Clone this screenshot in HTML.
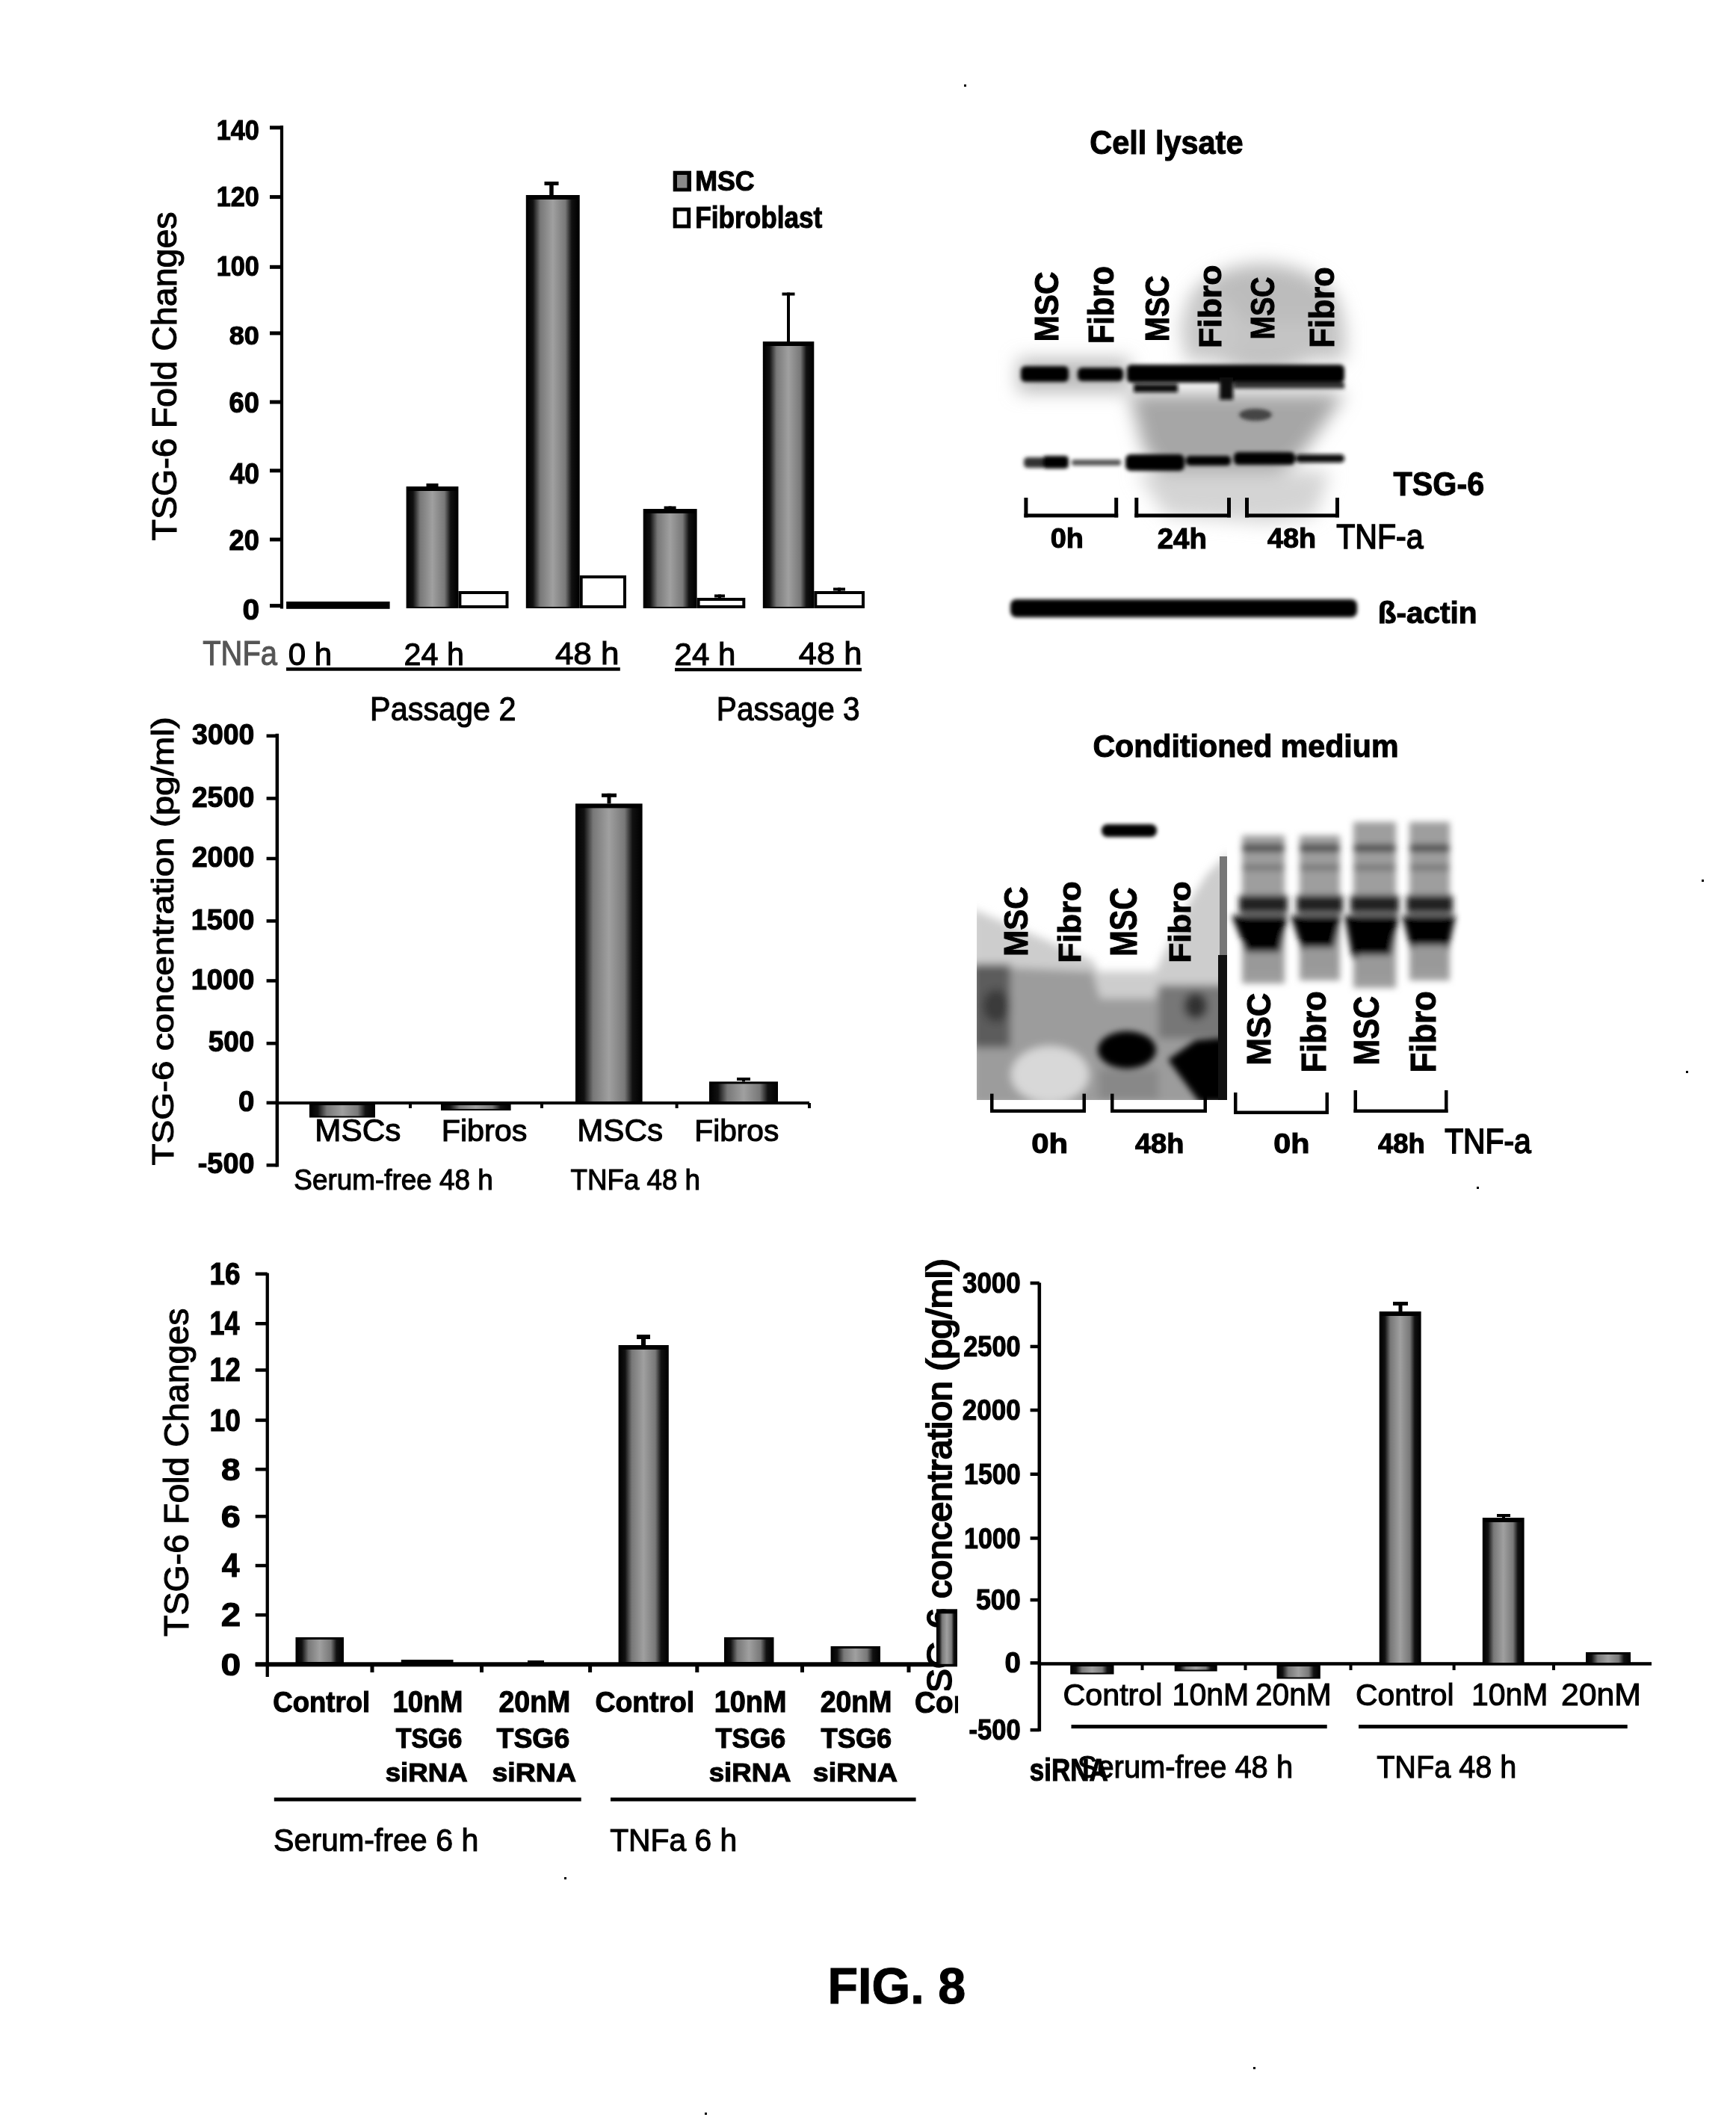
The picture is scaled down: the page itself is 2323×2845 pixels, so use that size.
<!DOCTYPE html>
<html><head><meta charset="utf-8"><title>FIG. 8</title>
<style>html,body{margin:0;padding:0;background:#fff;}
svg{display:block;filter:grayscale(1);} text{font-family:"Liberation Sans",Arial,sans-serif;stroke:#000;stroke-width:1.1px;}</style></head>
<body><svg width="2323" height="2845" viewBox="0 0 2323 2845">
<defs>
<linearGradient id="gb" x1="0" x2="1" y1="0" y2="0">
 <stop offset="0" stop-color="#000"/><stop offset="0.12" stop-color="#111"/>
 <stop offset="0.26" stop-color="#787878"/><stop offset="0.5" stop-color="#a0a0a0"/>
 <stop offset="0.74" stop-color="#787878"/><stop offset="0.86" stop-color="#111"/>
 <stop offset="1" stop-color="#000"/></linearGradient>
<filter id="bl3" x="-20%" y="-100%" width="140%" height="300%"><feGaussianBlur stdDeviation="2.5"/></filter>
<filter id="bl4" x="-30%" y="-30%" width="160%" height="160%"><feGaussianBlur stdDeviation="4"/></filter>
<filter id="bl6" x="-30%" y="-30%" width="160%" height="160%"><feGaussianBlur stdDeviation="6"/></filter>
<filter id="bl8" x="-30%" y="-30%" width="160%" height="160%"><feGaussianBlur stdDeviation="8"/></filter>
<filter id="bl12" x="-30%" y="-30%" width="160%" height="160%"><feGaussianBlur stdDeviation="12"/></filter>
</defs>
<rect width="2323" height="2845" fill="#fff"/>
<rect x="374.9" y="168.0" width="4.2" height="646.5" fill="#000" />
<rect x="361.0" y="808.1" width="16.0" height="5.0" fill="#000" />
<text x="324.4" y="828.6" font-size="38.7" font-weight="bold" textLength="22.7" lengthAdjust="spacingAndGlyphs" fill="#000" >0</text>
<rect x="361.0" y="719.5" width="16.0" height="5.0" fill="#000" />
<text x="306.6" y="735.9" font-size="37.9" font-weight="bold" textLength="40.3" lengthAdjust="spacingAndGlyphs" fill="#000" >20</text>
<rect x="361.0" y="627.3" width="16.0" height="5.0" fill="#000" />
<text x="307.4" y="647.4" font-size="38.3" font-weight="bold" textLength="39.5" lengthAdjust="spacingAndGlyphs" fill="#000" >40</text>
<rect x="361.0" y="535.5" width="16.0" height="5.0" fill="#000" />
<text x="306.6" y="551.6" font-size="38.0" font-weight="bold" textLength="40.3" lengthAdjust="spacingAndGlyphs" fill="#000" >60</text>
<rect x="361.0" y="443.4" width="16.0" height="5.0" fill="#000" />
<text x="306.8" y="461.0" font-size="35.8" font-weight="bold" textLength="40.1" lengthAdjust="spacingAndGlyphs" fill="#000" >80</text>
<rect x="361.0" y="354.8" width="16.0" height="5.0" fill="#000" />
<text x="289.7" y="368.9" font-size="37.3" font-weight="bold" textLength="57.1" lengthAdjust="spacingAndGlyphs" fill="#000" >100</text>
<rect x="361.0" y="261.1" width="16.0" height="5.0" fill="#000" />
<text x="289.7" y="275.6" font-size="37.5" font-weight="bold" textLength="57.1" lengthAdjust="spacingAndGlyphs" fill="#000" >120</text>
<rect x="361.0" y="168.3" width="16.0" height="5.0" fill="#000" />
<text x="289.7" y="186.8" font-size="37.3" font-weight="bold" textLength="57.1" lengthAdjust="spacingAndGlyphs" fill="#000" >140</text>
<rect x="383.1" y="805.0" width="138.5" height="9.8" fill="#000" />
<rect x="543.6" y="651.0" width="69.8" height="163.0" fill="#000" />
<rect x="544.6" y="657.0" width="67.8" height="155.0" fill="url(#gb)" />
<rect x="613.4" y="791.0" width="67.1" height="23.0" fill="#000" />
<rect x="617.4" y="795.0" width="59.1" height="15.0" fill="#fff" />
<rect x="703.8" y="261.0" width="71.9" height="553.0" fill="#000" />
<rect x="704.8" y="267.0" width="69.9" height="545.0" fill="url(#gb)" />
<rect x="775.7" y="770.0" width="62.3" height="44.0" fill="#000" />
<rect x="779.7" y="774.0" width="54.3" height="36.0" fill="#fff" />
<rect x="860.7" y="681.0" width="71.9" height="133.0" fill="#000" />
<rect x="861.7" y="687.0" width="69.9" height="125.0" fill="url(#gb)" />
<rect x="932.6" y="800.0" width="64.7" height="14.0" fill="#000" />
<rect x="936.6" y="804.0" width="56.7" height="6.0" fill="#fff" />
<rect x="1020.8" y="457.0" width="68.5" height="357.0" fill="#000" />
<rect x="1021.8" y="463.0" width="66.5" height="349.0" fill="url(#gb)" />
<rect x="1089.3" y="791.0" width="67.7" height="23.0" fill="#000" />
<rect x="1093.3" y="795.0" width="59.7" height="15.0" fill="#fff" />
<rect x="576.5" y="647.0" width="4.0" height="4.0" fill="#000" />
<rect x="570.5" y="647.0" width="16.0" height="4.0" fill="#000" />
<rect x="735.2" y="243.0" width="5.5" height="18.0" fill="#000" />
<rect x="728.5" y="243.0" width="19.0" height="5.0" fill="#000" />
<rect x="894.6" y="677.5" width="4.0" height="3.5" fill="#000" />
<rect x="888.6" y="677.5" width="16.0" height="4.0" fill="#000" />
<rect x="961.0" y="795.5" width="4.0" height="4.5" fill="#000" />
<rect x="956.0" y="795.5" width="14.0" height="4.0" fill="#000" />
<rect x="1053.0" y="391.5" width="4.0" height="65.5" fill="#000" />
<rect x="1046.5" y="391.5" width="17.0" height="4.0" fill="#000" />
<rect x="1121.0" y="786.5" width="4.0" height="4.5" fill="#000" />
<rect x="1115.0" y="786.5" width="16.0" height="4.0" fill="#000" />
<rect x="900.7" y="228.7" width="24.3" height="27.6" fill="#000" />
<rect x="906.0" y="234.0" width="13.4" height="17.5" fill="#8a8a8a" />
<text x="930.2" y="255.2" font-size="36.9" font-weight="bold" textLength="79.4" lengthAdjust="spacingAndGlyphs" fill="#000" >MSC</text>
<rect x="900.7" y="277.7" width="23.5" height="27.7" fill="#000" />
<rect x="905.7" y="282.7" width="13.5" height="17.7" fill="#fff" />
<text x="930.2" y="305.0" font-size="40.0" font-weight="bold" textLength="170.1" lengthAdjust="spacingAndGlyphs" fill="#000" >Fibroblast</text>
<text transform="rotate(-90)" x="-723.4" y="235.5" font-size="46.1" font-weight="normal" textLength="440.0" lengthAdjust="spacingAndGlyphs" fill="#000" >TSG-6 Fold Changes</text>
<text x="271.2" y="890.2" font-size="45.3" font-weight="normal" textLength="99.8" lengthAdjust="spacingAndGlyphs" fill="#555" style="stroke:#555">TNFa</text>
<text x="385.7" y="889.6" font-size="42.2" font-weight="normal" textLength="58.5" lengthAdjust="spacingAndGlyphs" fill="#000" >0 h</text>
<text x="540.6" y="889.5" font-size="42.9" font-weight="normal" textLength="80.3" lengthAdjust="spacingAndGlyphs" fill="#000" >24 h</text>
<text x="742.9" y="889.1" font-size="42.3" font-weight="normal" textLength="85.6" lengthAdjust="spacingAndGlyphs" fill="#000" >48 h</text>
<text x="902.6" y="889.5" font-size="42.9" font-weight="normal" textLength="81.8" lengthAdjust="spacingAndGlyphs" fill="#000" >24 h</text>
<text x="1068.8" y="889.1" font-size="42.3" font-weight="normal" textLength="84.6" lengthAdjust="spacingAndGlyphs" fill="#000" >48 h</text>
<rect x="383.0" y="893.2" width="446.8" height="4.5" fill="#000" />
<rect x="903.0" y="893.8" width="250.0" height="4.5" fill="#000" />
<text x="495.1" y="964.0" font-size="43.8" font-weight="normal" textLength="195.5" lengthAdjust="spacingAndGlyphs" fill="#000" >Passage 2</text>
<text x="958.8" y="964.0" font-size="43.8" font-weight="normal" textLength="191.9" lengthAdjust="spacingAndGlyphs" fill="#000" >Passage 3</text>
<rect x="368.6" y="981.8" width="4.5" height="579.7" fill="#000" />
<rect x="356.6" y="982.5" width="14.2" height="4.5" fill="#000" />
<text x="257.1" y="995.8" font-size="38.0" font-weight="bold" textLength="83.2" lengthAdjust="spacingAndGlyphs" fill="#000" >3000</text>
<rect x="356.6" y="1066.2" width="14.2" height="4.5" fill="#000" />
<text x="256.7" y="1079.5" font-size="38.0" font-weight="bold" textLength="83.6" lengthAdjust="spacingAndGlyphs" fill="#000" >2500</text>
<rect x="356.6" y="1146.7" width="14.2" height="4.5" fill="#000" />
<text x="256.7" y="1160.0" font-size="38.0" font-weight="bold" textLength="83.6" lengthAdjust="spacingAndGlyphs" fill="#000" >2000</text>
<rect x="356.6" y="1230.2" width="14.2" height="4.5" fill="#000" />
<text x="255.7" y="1243.5" font-size="38.0" font-weight="bold" textLength="84.6" lengthAdjust="spacingAndGlyphs" fill="#000" >1500</text>
<rect x="356.6" y="1310.2" width="14.2" height="4.5" fill="#000" />
<text x="255.7" y="1323.5" font-size="38.0" font-weight="bold" textLength="84.6" lengthAdjust="spacingAndGlyphs" fill="#000" >1000</text>
<rect x="356.6" y="1394.0" width="14.2" height="4.5" fill="#000" />
<text x="278.8" y="1407.3" font-size="38.0" font-weight="bold" textLength="61.6" lengthAdjust="spacingAndGlyphs" fill="#000" >500</text>
<rect x="356.6" y="1473.5" width="14.2" height="4.5" fill="#000" />
<text x="319.0" y="1486.8" font-size="38.0" font-weight="bold" textLength="21.4" lengthAdjust="spacingAndGlyphs" fill="#000" >0</text>
<rect x="356.6" y="1557.0" width="14.2" height="4.5" fill="#000" />
<text x="264.8" y="1570.3" font-size="38.0" font-weight="bold" textLength="75.6" lengthAdjust="spacingAndGlyphs" fill="#000" >-500</text>
<rect x="370.8" y="1474.0" width="712.2" height="4.0" fill="#000" />
<rect x="547.0" y="1476.0" width="4.0" height="7.0" fill="#000" />
<rect x="723.0" y="1476.0" width="4.0" height="7.0" fill="#000" />
<rect x="903.6" y="1476.0" width="4.0" height="7.0" fill="#000" />
<rect x="1081.0" y="1476.0" width="4.0" height="7.0" fill="#000" />
<rect x="414.0" y="1476.0" width="88.0" height="19.5" fill="#000" />
<rect x="415.0" y="1479.0" width="86.0" height="14.5" fill="url(#gb)" />
<rect x="590.0" y="1476.0" width="93.6" height="10.0" fill="#000" />
<rect x="591.0" y="1479.0" width="91.6" height="5.0" fill="url(#gb)" />
<rect x="770.0" y="1075.4" width="89.6" height="400.6" fill="#000" />
<rect x="771.0" y="1081.4" width="87.6" height="392.6" fill="url(#gb)" />
<rect x="949.0" y="1447.4" width="92.0" height="28.6" fill="#000" />
<rect x="950.0" y="1450.4" width="90.0" height="23.6" fill="url(#gb)" />
<rect x="812.5" y="1061.8" width="5.0" height="13.6" fill="#000" />
<rect x="805.0" y="1061.8" width="20.0" height="5.0" fill="#000" />
<rect x="993.0" y="1442.0" width="4.0" height="5.4" fill="#000" />
<rect x="986.0" y="1442.0" width="18.0" height="4.0" fill="#000" />
<text transform="rotate(-90)" x="-1559.6" y="232.3" font-size="41.5" font-weight="normal" textLength="600.5" lengthAdjust="spacingAndGlyphs" fill="#000" >TSG-6 concentration (pg/ml)</text>
<text x="421.3" y="1527.1" font-size="42.0" font-weight="normal" textLength="115.0" lengthAdjust="spacingAndGlyphs" fill="#000" >MSCs</text>
<text x="590.7" y="1527.1" font-size="40.5" font-weight="normal" textLength="114.7" lengthAdjust="spacingAndGlyphs" fill="#000" >Fibros</text>
<text x="772.2" y="1527.1" font-size="42.0" font-weight="normal" textLength="114.8" lengthAdjust="spacingAndGlyphs" fill="#000" >MSCs</text>
<text x="929.3" y="1527.1" font-size="40.5" font-weight="normal" textLength="113.0" lengthAdjust="spacingAndGlyphs" fill="#000" >Fibros</text>
<text x="393.3" y="1592.4" font-size="38.5" font-weight="normal" textLength="266.4" lengthAdjust="spacingAndGlyphs" fill="#000" >Serum-free 48 h</text>
<text x="763.5" y="1592.4" font-size="38.5" font-weight="normal" textLength="173.5" lengthAdjust="spacingAndGlyphs" fill="#000" >TNFa 48 h</text>
<text x="1458.3" y="205.6" font-size="44.7" font-weight="bold" textLength="205.2" lengthAdjust="spacingAndGlyphs" fill="#000" >Cell lysate</text>
<g filter="url(#bl12)"><ellipse cx="1690" cy="425" rx="105" ry="72" fill="#bcbcbc"/><rect x="1585" y="430" width="215" height="52" fill="#c4c4c4"/><ellipse cx="1620" cy="440" rx="40" ry="45" fill="#c8c8c8"/><polygon points="1511,526 1800,526 1770,570 1740,610 1700,640 1620,650 1560,640 1530,600" fill="#a6a6a6"/><polygon points="1520,630 1780,630 1760,690 1700,700 1560,690" fill="#d4d4d4"/><rect x="1362" y="480" width="150" height="45" fill="#bbb"/></g>
<g filter="url(#bl3)"><rect x="1366" y="490" width="64" height="21" rx="6" fill="#000"/><rect x="1442" y="492" width="61" height="18" rx="6" fill="#000"/><rect x="1508" y="488" width="291" height="24" rx="6" fill="#000"/><rect x="1517" y="514" width="59" height="11" fill="#111"/><rect x="1632" y="505" width="18" height="30" fill="#111"/><rect x="1651" y="512" width="148" height="8" fill="#333"/><ellipse cx="1680" cy="555" rx="22" ry="8" fill="#444"/><rect x="1370" y="612" width="60" height="14" rx="5" fill="#333"/><rect x="1395" y="610" width="35" height="17" rx="5" fill="#000"/><rect x="1434" y="615" width="66" height="8" rx="3" fill="#555"/><rect x="1506" y="608" width="79" height="22" rx="7" fill="#000"/><rect x="1587" y="610" width="60" height="13" rx="5" fill="#000"/><rect x="1651" y="605" width="82" height="17" rx="6" fill="#000"/><rect x="1734" y="608" width="65" height="11" rx="5" fill="#111"/><rect x="1352" y="802" width="464" height="24" rx="8" fill="#000"/></g>
<text transform="rotate(-90)" x="-457.3" y="1415.5" font-size="45.1" font-weight="bold" textLength="93.8" lengthAdjust="spacingAndGlyphs" fill="#000" >MSC</text>
<text transform="rotate(-90)" x="-460.1" y="1490.2" font-size="47.2" font-weight="bold" textLength="103.9" lengthAdjust="spacingAndGlyphs" fill="#000" >Fibro</text>
<text transform="rotate(-90)" x="-457.2" y="1563.5" font-size="45.1" font-weight="bold" textLength="88.3" lengthAdjust="spacingAndGlyphs" fill="#000" >MSC</text>
<text transform="rotate(-90)" x="-465.9" y="1634.0" font-size="43.3" font-weight="bold" textLength="111.3" lengthAdjust="spacingAndGlyphs" fill="#000" >Fibro</text>
<text transform="rotate(-90)" x="-454.2" y="1704.5" font-size="45.1" font-weight="bold" textLength="83.7" lengthAdjust="spacingAndGlyphs" fill="#000" >MSC</text>
<text transform="rotate(-90)" x="-465.8" y="1784.5" font-size="46.8" font-weight="bold" textLength="108.5" lengthAdjust="spacingAndGlyphs" fill="#000" >Fibro</text>
<rect x="1370.4" y="666.0" width="5.0" height="26.4" fill="#000" />
<rect x="1491.2" y="666.0" width="5.0" height="26.4" fill="#000" />
<rect x="1370.4" y="687.4" width="125.8" height="5.0" fill="#000" />
<rect x="1518.3" y="666.0" width="5.0" height="26.4" fill="#000" />
<rect x="1642.0" y="666.0" width="5.0" height="26.4" fill="#000" />
<rect x="1518.3" y="687.4" width="128.7" height="5.0" fill="#000" />
<rect x="1666.0" y="666.0" width="5.0" height="26.4" fill="#000" />
<rect x="1787.0" y="666.0" width="5.0" height="26.4" fill="#000" />
<rect x="1666.0" y="687.4" width="126.0" height="5.0" fill="#000" />
<text x="1405.8" y="733.4" font-size="37.8" font-weight="bold" textLength="44.2" lengthAdjust="spacingAndGlyphs" fill="#000" >0h</text>
<text x="1548.7" y="733.8" font-size="38.3" font-weight="bold" textLength="66.2" lengthAdjust="spacingAndGlyphs" fill="#000" >24h</text>
<text x="1695.9" y="733.4" font-size="37.8" font-weight="bold" textLength="65.2" lengthAdjust="spacingAndGlyphs" fill="#000" >48h</text>
<text x="1788.2" y="733.6" font-size="45.4" font-weight="normal" textLength="116.3" lengthAdjust="spacingAndGlyphs" fill="#000" style="stroke-width:1.6px">TNF-a</text>
<text x="1864.6" y="662.5" font-size="44.8" font-weight="bold" textLength="121.5" lengthAdjust="spacingAndGlyphs" fill="#000" >TSG-6</text>
<text x="1843.7" y="833.6" font-size="40.8" font-weight="bold" textLength="132.9" lengthAdjust="spacingAndGlyphs" fill="#000" >ß-actin</text>
<text x="1462.4" y="1012.6" font-size="42.9" font-weight="bold" textLength="409.1" lengthAdjust="spacingAndGlyphs" fill="#000" >Conditioned medium</text>
<clipPath id="cpL"><rect x="1307" y="1100" width="335" height="372"/></clipPath>
<g clip-path="url(#cpL)"><g filter="url(#bl6)"><polygon points="1300,1216 1400,1258 1462,1285 1470,1300 1546,1300 1560,1270 1590,1210 1615,1170 1645,1140 1645,1480 1300,1480" fill="#cdcdcd"/><polygon points="1300,1292 1462,1300 1472,1336 1546,1336 1550,1320 1645,1318 1645,1480 1300,1480" fill="#9c9c9c"/><rect x="1300" y="1290" width="52" height="112" fill="#5c5c5c"/><ellipse cx="1333" cy="1346" rx="18" ry="22" fill="#3a3a3a"/><ellipse cx="1405" cy="1438" rx="52" ry="38" fill="#d8d8d8"/><rect x="1550" y="1318" width="95" height="72" fill="#777"/><ellipse cx="1600" cy="1346" rx="16" ry="18" fill="#333"/><rect x="1470" y="1430" width="80" height="42" fill="#888"/></g><g filter="url(#bl4)"><ellipse cx="1508" cy="1405" rx="39" ry="25" fill="#000"/><polygon points="1563,1418 1600,1392 1645,1388 1645,1475 1605,1475" fill="#000"/></g><rect x="1630" y="1278" width="12" height="194" fill="#111"/><rect x="1632" y="1146" width="10" height="132" fill="#777"/></g>
<g filter="url(#bl3)"><rect x="1474" y="1103" width="74" height="17" rx="8" fill="#000"/></g>
<g filter="url(#bl4)"><rect x="1662" y="1118" width="57" height="198" fill="#9e9e9e"/><rect x="1662" y="1130" width="57" height="10" fill="#4a4a4a"/><rect x="1662" y="1157" width="57" height="8" fill="#777"/><rect x="1658" y="1198" width="65" height="24" fill="#222"/><polygon points="1648,1225 1723,1225 1711,1279 1670,1279" fill="#000"/><rect x="1667" y="1274" width="47" height="29" fill="#999"/></g>
<g filter="url(#bl4)"><rect x="1739" y="1118" width="54" height="194" fill="#9e9e9e"/><rect x="1739" y="1130" width="54" height="10" fill="#4a4a4a"/><rect x="1739" y="1157" width="54" height="8" fill="#777"/><rect x="1735" y="1198" width="62" height="24" fill="#222"/><polygon points="1727,1225 1795,1225 1783,1273 1743,1273" fill="#000"/><rect x="1744" y="1268" width="44" height="31" fill="#999"/></g>
<g filter="url(#bl4)"><rect x="1811" y="1100" width="57" height="222" fill="#9e9e9e"/><rect x="1811" y="1130" width="57" height="10" fill="#4a4a4a"/><rect x="1811" y="1157" width="57" height="8" fill="#777"/><rect x="1807" y="1198" width="65" height="24" fill="#222"/><polygon points="1799,1225 1872,1225 1860,1283 1810,1283" fill="#000"/><rect x="1816" y="1278" width="47" height="31" fill="#999"/></g>
<g filter="url(#bl4)"><rect x="1886" y="1100" width="54" height="212" fill="#9e9e9e"/><rect x="1886" y="1130" width="54" height="10" fill="#4a4a4a"/><rect x="1886" y="1157" width="54" height="8" fill="#777"/><rect x="1882" y="1198" width="62" height="24" fill="#222"/><polygon points="1876,1225 1948,1225 1938,1270 1888,1270" fill="#000"/><rect x="1891" y="1265" width="44" height="34" fill="#999"/></g>
<text transform="rotate(-90)" x="-1279.7" y="1374.5" font-size="45.1" font-weight="bold" textLength="93.3" lengthAdjust="spacingAndGlyphs" fill="#000" >MSC</text>
<text transform="rotate(-90)" x="-1288.5" y="1446.2" font-size="43.4" font-weight="bold" textLength="109.3" lengthAdjust="spacingAndGlyphs" fill="#000" >Fibro</text>
<text transform="rotate(-90)" x="-1279.7" y="1520.5" font-size="49.3" font-weight="bold" textLength="92.1" lengthAdjust="spacingAndGlyphs" fill="#000" >MSC</text>
<text transform="rotate(-90)" x="-1288.5" y="1593.3" font-size="40.4" font-weight="bold" textLength="109.3" lengthAdjust="spacingAndGlyphs" fill="#000" >Fibro</text>
<text transform="rotate(-90)" x="-1425.5" y="1700.2" font-size="44.1" font-weight="bold" textLength="96.7" lengthAdjust="spacingAndGlyphs" fill="#000" >MSC</text>
<text transform="rotate(-90)" x="-1435.6" y="1773.5" font-size="46.3" font-weight="bold" textLength="109.4" lengthAdjust="spacingAndGlyphs" fill="#000" >Fibro</text>
<text transform="rotate(-90)" x="-1425.4" y="1845.2" font-size="48.2" font-weight="bold" textLength="92.5" lengthAdjust="spacingAndGlyphs" fill="#000" >MSC</text>
<text transform="rotate(-90)" x="-1435.6" y="1920.5" font-size="47.6" font-weight="bold" textLength="109.4" lengthAdjust="spacingAndGlyphs" fill="#000" >Fibro</text>
<rect x="1325.0" y="1463.6" width="4.5" height="25.4" fill="#000" />
<rect x="1448.5" y="1463.6" width="4.5" height="25.4" fill="#000" />
<rect x="1325.0" y="1484.5" width="128.0" height="4.5" fill="#000" />
<rect x="1486.0" y="1463.6" width="4.5" height="25.4" fill="#000" />
<rect x="1610.5" y="1463.6" width="4.5" height="25.4" fill="#000" />
<rect x="1486.0" y="1484.5" width="129.0" height="4.5" fill="#000" />
<rect x="1651.0" y="1462.0" width="4.5" height="29.0" fill="#000" />
<rect x="1773.5" y="1462.0" width="4.5" height="29.0" fill="#000" />
<rect x="1651.0" y="1486.5" width="127.0" height="4.5" fill="#000" />
<rect x="1811.5" y="1459.0" width="4.5" height="30.0" fill="#000" />
<rect x="1933.0" y="1459.0" width="4.5" height="30.0" fill="#000" />
<rect x="1811.5" y="1484.5" width="126.0" height="4.5" fill="#000" />
<text x="1380.3" y="1543.3" font-size="37.7" font-weight="bold" textLength="48.8" lengthAdjust="spacingAndGlyphs" fill="#000" >0h</text>
<text x="1519.0" y="1543.3" font-size="37.7" font-weight="bold" textLength="65.4" lengthAdjust="spacingAndGlyphs" fill="#000" >48h</text>
<text x="1704.3" y="1543.3" font-size="37.7" font-weight="bold" textLength="48.2" lengthAdjust="spacingAndGlyphs" fill="#000" >0h</text>
<text x="1844.0" y="1543.3" font-size="37.7" font-weight="bold" textLength="62.7" lengthAdjust="spacingAndGlyphs" fill="#000" >48h</text>
<text x="1933.2" y="1543.2" font-size="45.3" font-weight="normal" textLength="115.5" lengthAdjust="spacingAndGlyphs" fill="#000" style="stroke-width:1.8px">TNF-a</text>
<rect x="355.6" y="1703.6" width="4.3" height="540.4" fill="#000" />
<rect x="341.7" y="2224.8" width="16.0" height="4.5" fill="#000" />
<text x="295.5" y="2241.6" font-size="43.0" font-weight="bold" textLength="26.7" lengthAdjust="spacingAndGlyphs" fill="#000" >0</text>
<rect x="341.7" y="2158.9" width="16.0" height="4.5" fill="#000" />
<text x="295.7" y="2176.2" font-size="43.6" font-weight="bold" textLength="26.4" lengthAdjust="spacingAndGlyphs" fill="#000" >2</text>
<rect x="341.7" y="2092.8" width="16.0" height="4.5" fill="#000" />
<text x="296.8" y="2110.0" font-size="44.2" font-weight="bold" textLength="23.7" lengthAdjust="spacingAndGlyphs" fill="#000" >4</text>
<rect x="341.7" y="2027.0" width="16.0" height="4.5" fill="#000" />
<text x="295.8" y="2043.9" font-size="43.0" font-weight="bold" textLength="26.1" lengthAdjust="spacingAndGlyphs" fill="#000" >6</text>
<rect x="341.7" y="1964.0" width="16.0" height="4.5" fill="#000" />
<text x="296.0" y="1980.9" font-size="43.0" font-weight="bold" textLength="25.6" lengthAdjust="spacingAndGlyphs" fill="#000" >8</text>
<rect x="341.7" y="1898.3" width="16.0" height="4.5" fill="#000" />
<text x="280.5" y="1915.2" font-size="43.0" font-weight="bold" textLength="41.3" lengthAdjust="spacingAndGlyphs" fill="#000" >10</text>
<rect x="341.7" y="1831.2" width="16.0" height="4.5" fill="#000" />
<text x="280.5" y="1848.4" font-size="43.6" font-weight="bold" textLength="41.3" lengthAdjust="spacingAndGlyphs" fill="#000" >12</text>
<rect x="341.7" y="1769.0" width="16.0" height="4.5" fill="#000" />
<text x="280.5" y="1786.2" font-size="44.2" font-weight="bold" textLength="39.9" lengthAdjust="spacingAndGlyphs" fill="#000" >14</text>
<rect x="341.7" y="1702.5" width="16.0" height="4.5" fill="#000" />
<text x="280.5" y="1719.3" font-size="43.0" font-weight="bold" textLength="41.1" lengthAdjust="spacingAndGlyphs" fill="#000" >16</text>
<rect x="341.7" y="2224.3" width="939.3" height="6.0" fill="#000" />
<rect x="495.5" y="2226.0" width="5.0" height="12.0" fill="#000" />
<rect x="642.0" y="2226.0" width="5.0" height="12.0" fill="#000" />
<rect x="787.1" y="2226.0" width="5.0" height="12.0" fill="#000" />
<rect x="930.3" y="2226.0" width="5.0" height="12.0" fill="#000" />
<rect x="1071.0" y="2226.0" width="5.0" height="12.0" fill="#000" />
<rect x="1213.5" y="2226.0" width="5.0" height="12.0" fill="#000" />
<rect x="395.5" y="2191.0" width="64.5" height="35.0" fill="#000" />
<rect x="396.5" y="2194.0" width="62.5" height="30.0" fill="url(#gb)" />
<rect x="536.8" y="2221.0" width="69.7" height="5.0" fill="#000" />
<rect x="706.0" y="2222.0" width="22.0" height="4.0" fill="#000" />
<rect x="827.6" y="1800.0" width="67.2" height="426.0" fill="#000" />
<rect x="828.6" y="1806.0" width="65.2" height="418.0" fill="url(#gb)" />
<rect x="969.0" y="2191.0" width="66.5" height="35.0" fill="#000" />
<rect x="970.0" y="2194.0" width="64.5" height="30.0" fill="url(#gb)" />
<rect x="1111.6" y="2203.0" width="66.4" height="23.0" fill="#000" />
<rect x="1112.6" y="2206.0" width="64.4" height="18.0" fill="url(#gb)" />
<rect x="858.0" y="1786.0" width="6.0" height="14.0" fill="#000" />
<rect x="852.0" y="1786.0" width="18.0" height="6.0" fill="#000" />
<text transform="rotate(-90)" x="-2189.9" y="252.1" font-size="47.1" font-weight="normal" textLength="439.5" lengthAdjust="spacingAndGlyphs" fill="#000" >TSG-6 Fold Changes</text>
<text x="365.3" y="2291.1" font-size="38.8" font-weight="bold" textLength="129.8" lengthAdjust="spacingAndGlyphs" fill="#000" >Control</text>
<text x="525.4" y="2291.1" font-size="40.1" font-weight="bold" textLength="94.0" lengthAdjust="spacingAndGlyphs" fill="#000" >10nM</text>
<text x="667.5" y="2291.1" font-size="40.1" font-weight="bold" textLength="95.8" lengthAdjust="spacingAndGlyphs" fill="#000" >20nM</text>
<text x="796.5" y="2291.1" font-size="38.8" font-weight="bold" textLength="132.6" lengthAdjust="spacingAndGlyphs" fill="#000" >Control</text>
<text x="955.7" y="2291.1" font-size="40.1" font-weight="bold" textLength="96.8" lengthAdjust="spacingAndGlyphs" fill="#000" >10nM</text>
<text x="1097.7" y="2291.1" font-size="40.1" font-weight="bold" textLength="95.8" lengthAdjust="spacingAndGlyphs" fill="#000" >20nM</text>
<text x="529.7" y="2339.4" font-size="36.5" font-weight="bold" textLength="88.6" lengthAdjust="spacingAndGlyphs" fill="#000" >TSG6</text>
<text x="664.6" y="2339.4" font-size="36.5" font-weight="bold" textLength="97.6" lengthAdjust="spacingAndGlyphs" fill="#000" >TSG6</text>
<text x="957.6" y="2339.4" font-size="36.5" font-weight="bold" textLength="93.7" lengthAdjust="spacingAndGlyphs" fill="#000" >TSG6</text>
<text x="1098.6" y="2339.4" font-size="36.5" font-weight="bold" textLength="94.7" lengthAdjust="spacingAndGlyphs" fill="#000" >TSG6</text>
<text x="515.7" y="2383.5" font-size="35.2" font-weight="bold" textLength="110.0" lengthAdjust="spacingAndGlyphs" fill="#000" >siRNA</text>
<text x="658.4" y="2383.5" font-size="35.2" font-weight="bold" textLength="112.6" lengthAdjust="spacingAndGlyphs" fill="#000" >siRNA</text>
<text x="948.7" y="2383.5" font-size="35.2" font-weight="bold" textLength="109.9" lengthAdjust="spacingAndGlyphs" fill="#000" >siRNA</text>
<text x="1087.7" y="2383.5" font-size="35.2" font-weight="bold" textLength="113.3" lengthAdjust="spacingAndGlyphs" fill="#000" >siRNA</text>
<rect x="366.8" y="2405.5" width="410.9" height="5.0" fill="#000" />
<rect x="817.0" y="2405.5" width="408.6" height="5.0" fill="#000" />
<text x="366.1" y="2476.8" font-size="42.4" font-weight="normal" textLength="274.2" lengthAdjust="spacingAndGlyphs" fill="#000" >Serum-free 6 h</text>
<text x="816.2" y="2476.8" font-size="42.4" font-weight="normal" textLength="170.1" lengthAdjust="spacingAndGlyphs" fill="#000" >TNFa 6 h</text>
<rect x="1388.5" y="1716.5" width="4.6" height="600.5" fill="#000" />
<rect x="1378.6" y="1714.8" width="12.2" height="4.5" fill="#000" />
<text x="1288.1" y="1730.1" font-size="38.0" font-weight="bold" textLength="77.5" lengthAdjust="spacingAndGlyphs" fill="#000" >3000</text>
<rect x="1378.6" y="1799.7" width="12.2" height="4.5" fill="#000" />
<text x="1289.3" y="1815.0" font-size="38.0" font-weight="bold" textLength="76.3" lengthAdjust="spacingAndGlyphs" fill="#000" >2500</text>
<rect x="1378.6" y="1884.8" width="12.2" height="4.5" fill="#000" />
<text x="1287.8" y="1900.1" font-size="38.0" font-weight="bold" textLength="77.8" lengthAdjust="spacingAndGlyphs" fill="#000" >2000</text>
<rect x="1378.6" y="1970.5" width="12.2" height="4.5" fill="#000" />
<text x="1290.0" y="1985.8" font-size="38.0" font-weight="bold" textLength="75.6" lengthAdjust="spacingAndGlyphs" fill="#000" >1500</text>
<rect x="1378.6" y="2056.2" width="12.2" height="4.5" fill="#000" />
<text x="1290.0" y="2071.5" font-size="38.0" font-weight="bold" textLength="75.6" lengthAdjust="spacingAndGlyphs" fill="#000" >1000</text>
<rect x="1378.6" y="2138.8" width="12.2" height="4.5" fill="#000" />
<text x="1305.9" y="2154.1" font-size="38.0" font-weight="bold" textLength="59.8" lengthAdjust="spacingAndGlyphs" fill="#000" >500</text>
<rect x="1378.6" y="2223.1" width="12.2" height="4.5" fill="#000" />
<text x="1344.5" y="2238.4" font-size="38.0" font-weight="bold" textLength="21.3" lengthAdjust="spacingAndGlyphs" fill="#000" >0</text>
<rect x="1378.6" y="2312.8" width="12.2" height="4.5" fill="#000" />
<text x="1296.6" y="2328.1" font-size="38.0" font-weight="bold" textLength="69.0" lengthAdjust="spacingAndGlyphs" fill="#000" >-500</text>
<rect x="1390.8" y="2224.2" width="819.2" height="4.5" fill="#000" />
<rect x="1526.5" y="2227.0" width="4.0" height="8.0" fill="#000" />
<rect x="1664.5" y="2227.0" width="4.0" height="8.0" fill="#000" />
<rect x="1805.5" y="2227.0" width="4.0" height="8.0" fill="#000" />
<rect x="1943.6" y="2227.0" width="4.0" height="8.0" fill="#000" />
<rect x="2077.0" y="2227.0" width="4.0" height="8.0" fill="#000" />
<rect x="1432.2" y="2227.0" width="58.3" height="13.5" fill="#000" />
<rect x="1433.2" y="2230.0" width="56.3" height="8.5" fill="url(#gb)" />
<rect x="1571.7" y="2227.0" width="57.0" height="9.5" fill="#000" />
<rect x="1572.7" y="2230.0" width="55.0" height="4.5" fill="url(#gb)" />
<rect x="1708.5" y="2227.0" width="58.3" height="19.5" fill="#000" />
<rect x="1709.5" y="2230.0" width="56.3" height="14.5" fill="url(#gb)" />
<rect x="1845.7" y="1755.0" width="55.9" height="472.0" fill="#000" />
<rect x="1846.7" y="1761.0" width="53.9" height="464.0" fill="url(#gb)" />
<rect x="1983.8" y="2031.0" width="55.8" height="196.0" fill="#000" />
<rect x="1984.8" y="2037.0" width="53.8" height="188.0" fill="url(#gb)" />
<rect x="2122.0" y="2211.0" width="60.0" height="16.0" fill="#000" />
<rect x="2123.0" y="2214.0" width="58.0" height="11.0" fill="url(#gb)" />
<rect x="1871.5" y="1742.0" width="5.0" height="13.0" fill="#000" />
<rect x="1864.0" y="1742.0" width="20.0" height="5.0" fill="#000" />
<rect x="2010.0" y="2026.0" width="4.0" height="5.0" fill="#000" />
<rect x="2003.0" y="2026.0" width="18.0" height="4.0" fill="#000" />
<text transform="rotate(-90)" x="-2295.0" y="1272.5" font-size="46.5" font-weight="normal" textLength="610.9" lengthAdjust="spacingAndGlyphs" fill="#000" style="stroke-width:2.2px">TSG-6 concentration (pg/ml)</text>
<rect x="1253.0" y="2153.3" width="28.0" height="75.5" fill="#000" />
<rect x="1254.0" y="2159.3" width="26.0" height="67.5" fill="url(#gb)" />
<rect x="1222.0" y="2262.0" width="60.0" height="34.0" fill="#fff" />
<svg x="1222" y="2250" width="60" height="60" overflow="hidden"><text x="2.1" y="41.6" font-size="41.5" font-weight="bold" textLength="75.2" lengthAdjust="spacingAndGlyphs" fill="#000" >Con</text></svg>
<text x="1422.5" y="2281.6" font-size="41.5" font-weight="normal" textLength="132.9" lengthAdjust="spacingAndGlyphs" fill="#000" >Control</text>
<text x="1568.6" y="2281.6" font-size="43.0" font-weight="normal" textLength="102.7" lengthAdjust="spacingAndGlyphs" fill="#000" >10nM</text>
<text x="1680.0" y="2281.6" font-size="43.0" font-weight="normal" textLength="101.6" lengthAdjust="spacingAndGlyphs" fill="#000" >20nM</text>
<text x="1814.0" y="2281.6" font-size="41.5" font-weight="normal" textLength="131.5" lengthAdjust="spacingAndGlyphs" fill="#000" >Control</text>
<text x="1968.9" y="2281.6" font-size="43.0" font-weight="normal" textLength="102.4" lengthAdjust="spacingAndGlyphs" fill="#000" >10nM</text>
<text x="2088.9" y="2281.6" font-size="43.0" font-weight="normal" textLength="107.0" lengthAdjust="spacingAndGlyphs" fill="#000" >20nM</text>
<rect x="1433.5" y="2308.0" width="342.2" height="5.0" fill="#000" />
<rect x="1818.0" y="2308.0" width="359.7" height="5.0" fill="#000" />
<text x="1377.8" y="2382.6" font-size="42.2" font-weight="bold" textLength="105.1" lengthAdjust="spacingAndGlyphs" fill="#000" >siRNA</text>
<text x="1441.8" y="2378.6" font-size="42.2" font-weight="normal" textLength="288.3" lengthAdjust="spacingAndGlyphs" fill="#000" >Serum-free 48 h</text>
<text x="1842.2" y="2378.6" font-size="42.2" font-weight="normal" textLength="187.0" lengthAdjust="spacingAndGlyphs" fill="#000" >TNFa 48 h</text>
<rect x="1290.0" y="113.0" width="3.0" height="3.0" fill="#000" />
<rect x="755.0" y="2512.0" width="3.0" height="3.0" fill="#000" />
<rect x="943.0" y="2827.0" width="3.0" height="3.0" fill="#000" />
<rect x="1677.0" y="2766.0" width="3.0" height="3.0" fill="#000" />
<rect x="2277.0" y="1177.0" width="3.0" height="3.0" fill="#000" />
<rect x="2256.0" y="1433.0" width="3.0" height="3.0" fill="#000" />
<rect x="1976.0" y="1588.0" width="3.0" height="3.0" fill="#000" />
<text x="1107.5" y="2681.1" font-size="69.4" font-weight="bold" textLength="184.6" lengthAdjust="spacingAndGlyphs" fill="#000" >FIG. 8</text>
</svg></body></html>
